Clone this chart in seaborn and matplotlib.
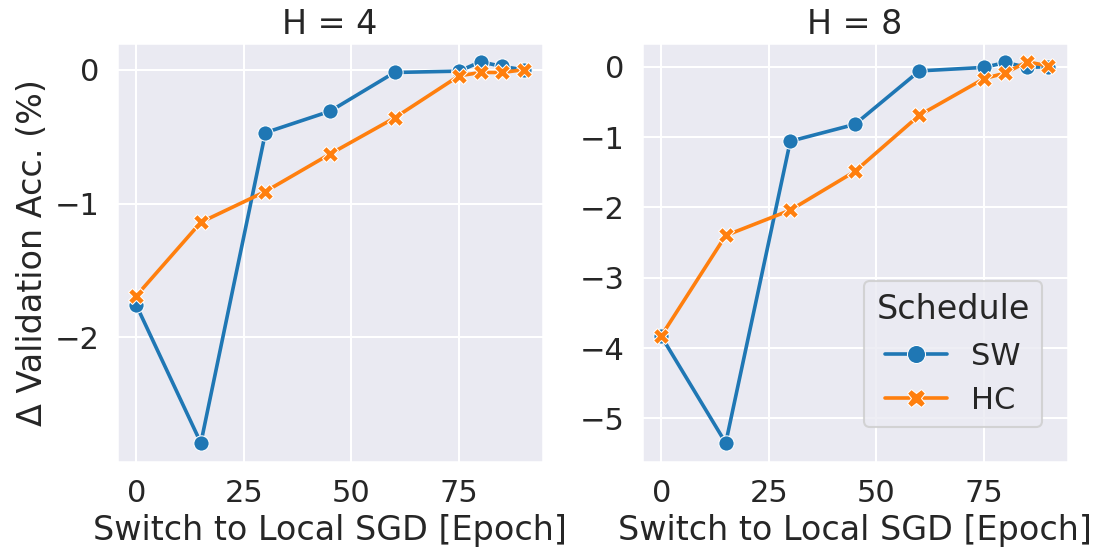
import matplotlib
matplotlib.use('Agg')
import matplotlib.pyplot as plt
import pandas as pd
import seaborn as sns

epochs = [0, 15, 30, 45, 60, 75, 80, 85, 90]

# H = 4
sw_h4 = [-1.76, -2.79, -0.47, -0.31, -0.02, -0.01, 0.06, 0.025, 0.0]
hc_h4 = [-1.69, -1.14, -0.91, -0.63, -0.36, -0.045, -0.02, -0.02, 0.0]

# H = 8
sw_h8 = [-3.83, -5.35, -1.06, -0.82, -0.06, -0.01, 0.06, -0.01, 0.0]
hc_h8 = [-3.83, -2.40, -2.04, -1.49, -0.69, -0.17, -0.09, 0.07, 0.01]

schedules = ['SW', 'HC']


def make_df(sw, hc):
    rows = []
    for name, vals in zip(schedules, [sw, hc]):
        for e, v in zip(epochs, vals):
            rows.append({'epoch': e, 'acc': v, 'Schedule': name})
    return pd.DataFrame(rows)


sns.set_theme(context='talk', style='darkgrid', font_scale=4 / 3)
fig, axes = plt.subplots(1, 2, figsize=(10.93, 5.51), dpi=100)

for ax, (h, sw, hc) in zip(axes, [(4, sw_h4, hc_h4), (8, sw_h8, hc_h8)]):
    df = make_df(sw, hc)
    sns.lineplot(data=df, x='epoch', y='acc', hue='Schedule', style='Schedule',
                 markers=True, dashes=False, palette='tab10',
                 markersize=11, linewidth=2.6,
                 ax=ax, legend=(h == 8))
    ax.set_title(f'H = {h}')
    ax.set_xlabel('Switch to Local SGD [Epoch]')
    ax.set_ylabel('')
    ax.set_xticks([0, 25, 50, 75])

axes[0].set_ylabel('Δ Validation Acc. (%)')
axes[0].set_yticks([0, -1, -2])
leg = axes[1].legend(title='Schedule', loc='lower right',
                     bbox_to_anchor=(0.939, 0.083), borderaxespad=0)
for line in leg.get_lines():
    line.set_markersize(13)
    line.set_linewidth(2.6)

plt.subplots_adjust(left=0.107, right=0.977, bottom=0.1615, top=0.9225, wspace=0.232)
plt.savefig('out.png')
